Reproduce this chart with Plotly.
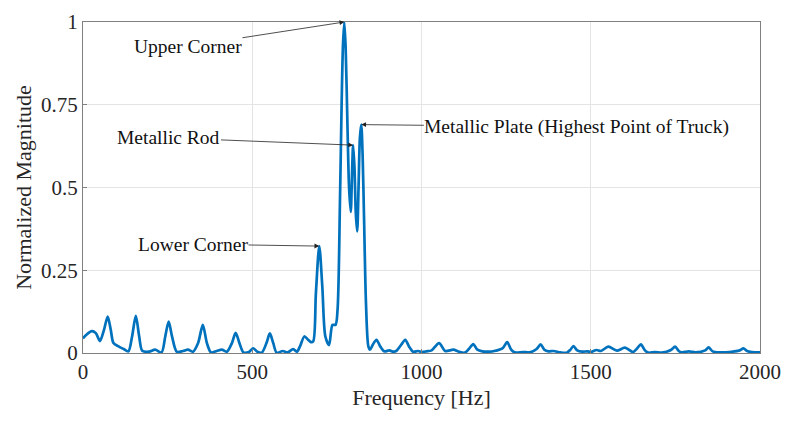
import plotly.graph_objects as go

freq = [0, 10, 26, 38, 50, 62, 73, 82, 90, 105, 120, 134, 145, 156, 166, 175, 195, 213, 232,
        243, 253, 263, 277, 295, 310, 325, 340, 354, 366, 378, 395, 410, 425, 440, 451, 462,
        474, 490, 503, 515, 528, 542, 552, 562, 572, 590, 605, 621, 632, 641, 654, 665, 673,
        680, 688, 698, 707, 716, 727, 737, 746, 752, 759, 764, 768, 772, 776, 781, 786, 791,
        795, 798, 802, 806, 810, 814, 818, 822, 826, 830, 836, 843, 848, 856, 867, 878, 890,
        905, 915, 925, 940, 952, 963, 975, 990, 1000, 1015, 1030, 1052, 1070, 1094, 1110,
        1128, 1140, 1153, 1165, 1180, 1200, 1215, 1240, 1253, 1265, 1275, 1300, 1320, 1340,
        1352, 1363, 1375, 1390, 1410, 1429, 1440, 1449, 1460, 1475, 1490, 1500, 1517, 1530,
        1552, 1577, 1601, 1625, 1638, 1648, 1660, 1670, 1690, 1710, 1738, 1749, 1760, 1769,
        1790, 1810, 1838, 1848, 1860, 1880, 1910, 1940, 1951, 1962, 1976, 2000]
magnitude = [0.044, 0.055, 0.066, 0.06, 0.036, 0.07, 0.11, 0.07, 0.03, 0.02, 0.012, 0.005,
             0.05, 0.112, 0.05, 0.007, 0.004, 0.01, 0.002,
             0.05, 0.095, 0.05, 0.004, 0.006, 0.01, 0.004, 0.03, 0.085, 0.03, 0.002, 0.006,
             0.01, 0.004, 0.03, 0.061, 0.03,
             0.002, 0.003, 0.014, 0.004, 0.001, 0.03, 0.059, 0.03, 0.001, 0.006, 0.002, 0.012,
             0.004, 0.02, 0.05, 0.04, 0.033,
             0.035, 0.18, 0.323, 0.2, 0.05, 0.024, 0.085, 0.085, 0.13, 0.45, 0.75, 0.93, 1.0,
             0.92, 0.7, 0.5, 0.426,
             0.55, 0.628, 0.56, 0.42, 0.367, 0.5, 0.65, 0.69, 0.6, 0.42, 0.15, 0.02, 0.01,
             0.025, 0.04, 0.02, 0.005,
             0.008, 0.004, 0.006, 0.025, 0.04, 0.02, 0.004, 0.006, 0.003, 0.005, 0.008, 0.03,
             0.006, 0.01, 0.004,
             0.001, 0.012, 0.027, 0.01, 0.005, 0.004, 0.006, 0.015, 0.033, 0.01, 0.002, 0.003,
             0.002, 0.012,
             0.026, 0.01, 0.005, 0.006, 0.002, 0.001, 0.01, 0.021, 0.008, 0.004, 0.005, 0.003,
             0.009, 0.006,
             0.019, 0.007, 0.016, 0.003, 0.015, 0.026, 0.008, 0.001, 0.003, 0.001, 0.01, 0.019,
             0.006, 0.002,
             0.005, 0.002, 0.008, 0.017, 0.005, 0.002, 0.003, 0.008, 0.014, 0.006, 0.003, 0.002]

x_ticks = [0, 500, 1000, 1500, 2000]
y_ticks = [0, 0.25, 0.5, 0.75, 1]
y_tick_labels = ["0", "0.25", "0.5", "0.75", "1"]

labels = ["Upper Corner", "Metallic Rod", "Metallic Plate (Highest Point of Truck)", "Lower Corner"]
label_head_x = [772, 798, 822, 698]
label_head_y = [1.0, 0.628, 0.69, 0.323]
label_text_x = [310, 254, 1459, 325]
label_text_y = [0.927, 0.65, 0.683, 0.329]

serif = "Liberation Serif, Times New Roman, serif"

fig = go.Figure()
fig.add_trace(go.Scatter(
    x=freq, y=magnitude, mode="lines",
    line=dict(color="#0072BD", width=2.7, shape="spline", smoothing=0.8),
    showlegend=False, hoverinfo="skip"))

for t, hx, hy, tx, ty in zip(labels, label_head_x, label_head_y, label_text_x, label_text_y):
    fig.add_annotation(
        x=hx, y=hy, ax=tx, ay=ty, xref="x", yref="y", axref="x", ayref="y",
        text=t, showarrow=True, arrowhead=2, arrowsize=1.2, arrowwidth=0.8,
        arrowcolor="#222222", standoff=0, startstandoff=0,
        font=dict(family=serif, size=19.5, color="#111111"),
        xanchor="center", yanchor="middle", borderpad=0)

axis_common = dict(
    showline=True, linecolor="#808080", linewidth=1, mirror=True,
    showgrid=True, gridcolor="#e4e4e4", gridwidth=1, automargin=False,
    zeroline=False, ticks="inside", ticklen=4, tickcolor="#808080",
    tickfont=dict(family=serif, size=21, color="#262626"),
)

fig.update_xaxes(range=[0, 2000], tickvals=x_ticks, ticktext=[str(v) for v in x_ticks],
                 title=dict(text="Frequency [Hz]", font=dict(family=serif, size=22, color="#262626"),
                            standoff=6),
                 **axis_common)
fig.update_yaxes(range=[0, 1], tickvals=y_ticks, ticktext=y_tick_labels,
                 title=dict(text="Normalized Magnitude", font=dict(family=serif, size=22, color="#262626"),
                            standoff=3),
                 **axis_common)

fig.update_layout(
    width=787, height=423,
    margin=dict(l=83, r=27, t=22, b=70),
    paper_bgcolor="white", plot_bgcolor="white",
)

fig.write_html("out.html")
